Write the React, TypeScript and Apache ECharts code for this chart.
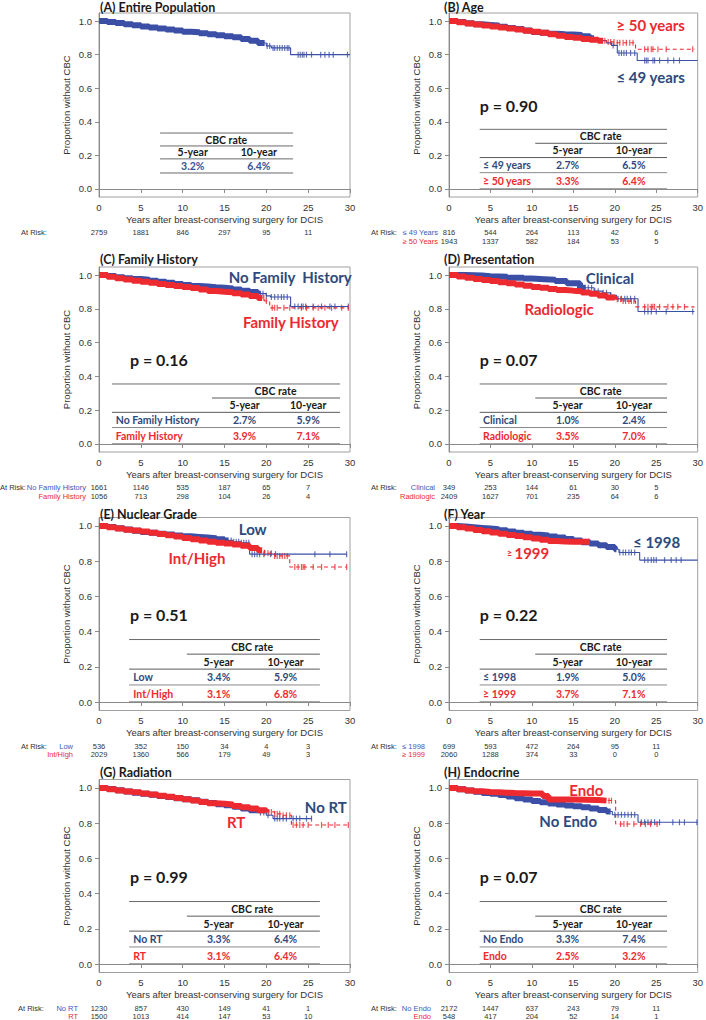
import React, { useEffect, useRef } from "react";
import * as echarts from "echarts";

// ---------------- data ----------------
const yTicks = [0, 0.2, 0.4, 0.6, 0.8, 1.0];
const riskTimes = [0, 5, 10, 15, 20, 25];

// (A) Entire population
const aAllSteps = [[0,1],[1,0.995],[2,0.988],[3,0.981],[4,0.975],[5,0.968],[6,0.962],[7,0.956],[8,0.95],[9,0.944],[10,0.937],[11,0.933],[12,0.928],[13,0.921],[14,0.915],[15,0.909],[16,0.903],[17,0.893],[18,0.882],[19,0.869],[20,0.852],[20.6,0.84],[22.9,0.8],[30,0.8]];
const aAllCensor = [20.1,20.4,20.8,21.0,21.3,21.6,21.9,22.2,22.5,22.7,23.8,24.05,24.3,24.5,24.8,25.4,26.5,27.0,27.5,28.0,29.7];
const aAllRisk = [2759,1881,846,297,95,11];

// (B) Age
const bYoungSteps = [[0,1],[1,0.994],[2,0.987],[3,0.981],[4,0.977],[5,0.973],[6,0.966],[7,0.959],[8,0.952],[9,0.944],[10,0.935],[11,0.93],[12,0.925],[13,0.922],[14,0.92],[15,0.917],[16,0.91],[17,0.897],[18,0.884],[19,0.87],[19.6,0.855],[20.3,0.81],[22.7,0.765],[30,0.765]];
const bYoungCensor = [19.8,20.5,20.8,21.1,21.4,21.9,22.4,23.6,23.8,24.0,24.6,24.8,25.4,26.4,27.1,27.8];
const bYoungRisk = [816,544,264,113,42,6];
const bOldSteps = [[0,1],[1,0.993],[2,0.985],[3,0.979],[4,0.973],[5,0.967],[6,0.961],[7,0.955],[8,0.949],[9,0.942],[10,0.936],[11,0.93],[12,0.922],[13,0.913],[14,0.905],[15,0.9],[16,0.893],[17,0.888],[18,0.882],[19,0.876],[20,0.871],[22.5,0.832],[29.6,0.832]];
const bOldCensor = [18.8,19.2,19.5,19.9,20.3,20.6,21.0,21.4,21.8,22.2,23.6,24.0,24.4,24.6,25.2,26.2,29.4];
const bOldRisk = [1943,1337,582,184,53,5];

// (C) Family history
const cNoFhSteps = [[0,1],[1,0.994],[2,0.988],[3,0.982],[4,0.977],[5,0.973],[6,0.967],[7,0.961],[8,0.954],[9,0.948],[10,0.941],[11,0.936],[12,0.932],[13,0.928],[14,0.925],[15,0.921],[16,0.914],[17,0.907],[18,0.9],[19,0.89],[20,0.877],[20.5,0.87],[22.9,0.814],[29.8,0.814]];
const cNoFhCensor = [19.3,19.6,20.0,20.6,21.0,21.4,21.8,22.1,22.5,23.4,23.8,24.2,24.4,24.7,25.6,26.6,27.6,28.2,29.8];
const cNoFhRisk = [1661,1146,535,187,65,7];
const cFhSteps = [[0,1],[1,0.99],[2,0.981],[3,0.974],[4,0.967],[5,0.961],[6,0.955],[7,0.948],[8,0.941],[9,0.935],[10,0.929],[11,0.923],[12,0.914],[13,0.906],[14,0.902],[15,0.899],[16,0.893],[17,0.885],[18,0.876],[19,0.865],[19.8,0.847],[20.4,0.806],[29.8,0.806]];
const cFhCensor = [19.7,20.0,20.7,21.0,21.3,22.1,22.8,24.2,24.8,25.6,26.2,27.0,27.8,29.0,29.8];
const cFhRisk = [1056,713,298,104,26,4];

// (D) Presentation
const dClinSteps = [[0,1],[2,0.997],[4,0.993],[5,0.99],[7,0.985],[9,0.98],[10,0.976],[11.5,0.972],[12.8,0.965],[14.2,0.951],[15.8,0.925],[17.5,0.905],[18.5,0.895],[19.5,0.88],[20.2,0.86],[22.8,0.784],[29.6,0.784]];
const dClinCensor = [16.8,17.2,17.6,18.0,18.6,19.0,19.5,20.4,20.8,21.2,21.5,21.9,22.4,23.6,24.0,24.4,25.0,26.2,29.4];
const dClinRisk = [349,253,144,61,30,5];
const dRadSteps = [[0,1],[1,0.992],[2,0.984],[3,0.977],[4,0.971],[5,0.965],[6,0.958],[7,0.951],[8,0.944],[9,0.937],[10,0.93],[11,0.925],[12,0.918],[13,0.912],[14,0.908],[15,0.905],[16,0.897],[17,0.889],[18,0.879],[19,0.868],[20,0.857],[21,0.846],[22.5,0.812],[29.6,0.812]];
const dRadCensor = [20.3,20.7,21.0,21.3,21.7,22.0,22.3,23.6,24.0,24.4,24.6,24.8,25.4,26.4,27.0,27.6,28.4];
const dRadRisk = [2409,1627,701,235,64,6];

// (E) Nuclear grade
const eLowSteps = [[0,1],[1,0.994],[2,0.987],[3,0.98],[4,0.973],[5,0.966],[6,0.961],[7,0.956],[8,0.951],[9,0.946],[10,0.941],[11,0.938],[12,0.934],[13,0.93],[14,0.925],[15,0.918],[16,0.91],[17,0.905],[18,0.84],[29.6,0.84]];
const eLowCensor = [15.8,16.1,16.4,16.7,17.0,17.3,17.6,17.9,18.3,18.6,18.9,19.2,19.7,20.5,21.1,25.8,27.6,29.6];
const eLowRisk = [536,352,150,34,4,3];
const eHighSteps = [[0,1],[1,0.992],[2,0.985],[3,0.979],[4,0.974],[5,0.969],[6,0.962],[7,0.955],[8,0.947],[9,0.94],[10,0.932],[11,0.925],[12,0.917],[13,0.91],[14,0.905],[15,0.9],[16,0.895],[17,0.888],[18,0.875],[19,0.862],[19.8,0.845],[21,0.83],[22.8,0.767],[29.6,0.767]];
const eHighCensor = [19.8,20.2,20.6,21.0,21.3,21.6,21.9,22.2,22.5,23.4,23.8,24.2,24.4,24.6,25.6,26.6,28.2,29.6];
const eHighRisk = [2029,1360,566,179,49,3];

// (F) Year
const fEarlySteps = [[0,1],[1,0.997],[2,0.993],[3,0.989],[4,0.985],[5,0.981],[6,0.975],[7,0.968],[8,0.962],[9,0.956],[10,0.95],[11,0.946],[12,0.94],[13,0.934],[14,0.926],[15,0.917],[16,0.908],[17,0.9],[18,0.89],[19,0.88],[20,0.868],[20.5,0.849],[23,0.806],[30,0.806]];
const fEarlyCensor = [20.6,21.0,21.3,21.7,22.0,22.4,23.6,24.0,24.4,24.7,25.0,26.0,26.8,27.4,28.0];
const fEarlyRisk = [699,593,472,264,95,11];
const fLateSteps = [[0,1],[1,0.992],[2,0.985],[3,0.977],[4,0.97],[5,0.963],[6,0.956],[7,0.949],[8,0.943],[9,0.936],[10,0.929],[11,0.922],[12,0.914],[13,0.911],[14,0.91],[15,0.91],[17,0.91]];
const fLateCensor = [16.4,16.8];
const fLateRisk = [2060,1288,374,33,0,0];

// (G) Radiation
const gNoRtSteps = [[0,1],[1,0.994],[2,0.987],[3,0.98],[4,0.973],[5,0.967],[6,0.961],[7,0.955],[8,0.948],[9,0.942],[10,0.936],[11,0.93],[12,0.922],[13,0.915],[14,0.908],[15,0.902],[16,0.893],[17,0.883],[18,0.874],[19,0.86],[20,0.845],[20.8,0.826],[25.4,0.826]];
const gNoRtCensor = [19.3,19.7,20.2,21.0,21.3,21.6,22.0,22.4,23.2,23.6,24.0,24.8,25.4];
const gNoRtRisk = [1230,857,430,149,41,1];
const gRtSteps = [[0,1],[1,0.993],[2,0.986],[3,0.98],[4,0.975],[5,0.969],[6,0.963],[7,0.956],[8,0.95],[9,0.943],[10,0.936],[11,0.929],[12,0.92],[13,0.913],[14,0.91],[15,0.906],[16,0.898],[17,0.89],[18,0.883],[19,0.874],[20,0.864],[21,0.853],[21.8,0.845],[23,0.79],[30,0.79]];
const gRtCensor = [20.3,20.6,21.0,21.3,21.6,22.0,22.4,22.8,23.2,23.6,24.0,24.4,25.0,26.6,27.4,28.2,29.8];
const gRtRisk = [1500,1013,414,147,53,10];

// (H) Endocrine
const hNoEndoSteps = [[0,1],[1,0.993],[2,0.985],[3,0.978],[4,0.972],[5,0.967],[6,0.96],[7,0.951],[8,0.942],[9,0.934],[10,0.926],[11,0.919],[12,0.912],[13,0.906],[14,0.901],[15,0.896],[16,0.89],[17,0.883],[18,0.875],[19,0.866],[19.7,0.848],[22.8,0.805],[30,0.805]];
const hNoEndoCensor = [20.0,20.4,20.8,21.2,21.6,22.0,22.4,23.2,23.6,24.0,24.4,24.8,25.4,27.0,27.8,28.4,29.9];
const hNoEndoRisk = [2172,1447,637,243,79,11];
const hEndoSteps = [[0,1],[1,0.993],[2,0.986],[3,0.981],[4,0.977],[5,0.975],[6,0.973],[7,0.971],[8,0.97],[9,0.969],[10,0.968],[11.3,0.955],[12,0.935],[15,0.932],[18,0.928],[20.1,0.795],[25.2,0.795]];
const hEndoCensor = [19.3,19.6,20.7,21.1,21.5,22.3,23.1,23.7,24.3,25.1];
const hEndoRisk = [548,417,204,52,14,1];

// ---------------- style ----------------
const BLUE = "#3b4fa6";
const RED = "#ec2a30";
const NAVY = "#2e4a7c";
const RISK_BLUE = "#4157c0";
const SANS = "Liberation Sans, Arial, sans-serif";
const CAL = "Lato, 'Open Sans', sans-serif";

const colLeft = [99, 449];
const colWidth = 251;
const rowTop = [13, 267, 517.5, 779.5];
const rowHeight = [184, 185, 193, 193];
const titleY = [7, 259, 514, 772];
const titleX = [100, 444];

const tblRight = { x0: 3.7, x1: 26.3, xp: 10.4, c5: 14.3, c10: 22.3, ch: 18.3, lx: 4.1 };

const panels = [
  { title: "(A) Entire Population", col: 0, row: 0, atX: 21, riskRight: 0, p: null,
    table: { x0: 7.3, x1: 23.2, c5: 11.2, c10: 19.1, ch: 15.2 },
    groups: [{ key: "b", steps: aAllSteps, band: 19.8, censor: aAllCensor, risk: aAllRisk, rates: ["3.2%", "6.4%"], name: "", riskName: "", label: null }] },
  { title: "(B) Age", col: 1, row: 0, atX: 371, riskRight: 438, p: "p = 0.90", table: tblRight,
    groups: [
      { key: "b", steps: bYoungSteps, band: 17.5, censor: bYoungCensor, risk: bYoungRisk, rates: ["2.7%", "6.5%"], name: "≤ 49 years", riskName: "≤ 49 Years", label: { x: 20.2, y: 0.667 } },
      { key: "r", steps: bOldSteps, band: 18.6, censor: bOldCensor, risk: bOldRisk, rates: ["3.3%", "6.4%"], name: "≥ 50 years", riskName: "≥ 50 Years", label: { x: 20.2, y: 0.976 } }] },
  { title: "(C) Family History", col: 0, row: 1, atX: 0, riskRight: 86, p: "p = 0.16",
    table: { x0: 1.55, x1: 28.8, xp: 13.5, c5: 17.4, c10: 25.0, ch: 21.1, lx: 2.0 },
    groups: [
      { key: "b", steps: cNoFhSteps, band: 19.1, censor: cNoFhCensor, risk: cNoFhRisk, rates: ["2.7%", "5.9%"], name: "No Family  History", riskName: "No Family History", label: { x: 15.5, y: 0.99 } },
      { key: "r", steps: cFhSteps, band: 19.5, censor: cFhCensor, risk: cFhRisk, rates: ["3.9%", "7.1%"], name: "Family History", riskName: "Family History", label: { x: 17.2, y: 0.72 } }] },
  { title: "(D) Presentation", col: 1, row: 1, atX: 371, riskRight: 435, p: "p = 0.07", table: tblRight,
    groups: [
      { key: "b", steps: dClinSteps, band: 16.5, censor: dClinCensor, risk: dClinRisk, rates: ["1.0%", "2.4%"], name: "Clinical", riskName: "Clinical", label: { x: 16.5, y: 0.98 } },
      { key: "r", steps: dRadSteps, band: 20.0, censor: dRadCensor, risk: dRadRisk, rates: ["3.5%", "7.0%"], name: "Radiologic", riskName: "Radiologic", label: { x: 9.1, y: 0.8 } }] },
  { title: "(E) Nuclear Grade", col: 0, row: 2, atX: 21, riskRight: 73, p: "p = 0.51",
    table: { x0: 3.6, x1: 26.4, xp: 10.5, c5: 14.3, c10: 22.3, ch: 18.3, lx: 4.1 },
    groups: [
      { key: "b", steps: eLowSteps, band: 15.5, censor: eLowCensor, risk: eLowRisk, rates: ["3.4%", "5.9%"], name: "Low", riskName: "Low", label: { x: 16.7, y: 0.983 } },
      { key: "r", steps: eHighSteps, band: 19.5, censor: eHighCensor, risk: eHighRisk, rates: ["3.1%", "6.8%"], name: "Int/High", riskName: "Int/High", label: { x: 8.3, y: 0.818 } }] },
  { title: "(F) Year", col: 1, row: 2, atX: 371, riskRight: 425, p: "p = 0.22", table: tblRight,
    groups: [
      { key: "b", steps: fEarlySteps, band: 20.2, censor: fEarlyCensor, risk: fEarlyRisk, rates: ["1.9%", "5.0%"], name: "≤ 1998", riskName: "≤ 1998", label: { x: 22.2, y: 0.909 } },
      { key: "r", steps: fLateSteps, band: 17, censor: fLateCensor, risk: fLateRisk, rates: ["3.7%", "7.1%"], name: "≥ 1999", riskName: "≥ 1999", label: { x: 7.0, y: 0.847, smallSym: true } }] },
  { title: "(G) Radiation", col: 0, row: 3, atX: 18, riskRight: 78, p: "p = 0.99",
    table: { x0: 3.6, x1: 26.4, xp: 10.5, c5: 14.3, c10: 22.3, ch: 18.3, lx: 4.1 },
    groups: [
      { key: "b", steps: gNoRtSteps, band: 19.0, censor: gNoRtCensor, risk: gNoRtRisk, rates: ["3.3%", "6.4%"], name: "No RT", riskName: "No RT", label: { x: 24.6, y: 0.892 } },
      { key: "r", steps: gRtSteps, band: 20.0, censor: gRtCensor, risk: gRtRisk, rates: ["3.1%", "6.4%"], name: "RT", riskName: "RT", label: { x: 15.3, y: 0.807 } }] },
  { title: "(H) Endocrine", col: 1, row: 3, atX: 371, riskRight: 431, p: "p = 0.07", table: tblRight,
    groups: [
      { key: "b", steps: hNoEndoSteps, band: 19.5, censor: hNoEndoCensor, risk: hNoEndoRisk, rates: ["3.3%", "7.4%"], name: "No Endo", riskName: "No Endo", label: { x: 10.9, y: 0.8125 } },
      { key: "r", steps: hEndoSteps, band: 19.0, censor: hEndoCensor, risk: hEndoRisk, rates: ["2.5%", "3.2%"], name: "Endo", riskName: "Endo", label: { x: 14.5, y: 0.989 } }] },
];

function stepValue(steps: number[][], t: number) {
  let v = steps[0][1];
  for (const [x, y] of steps) {
    if (x <= t) v = y;
    else break;
  }
  return v;
}

function buildOption() {
  const grid: any[] = [];
  const xAxis: any[] = [];
  const yAxis: any[] = [];
  const series: any[] = [];
  panels.forEach((p, i) => {
    grid.push({
      left: colLeft[p.col], top: rowTop[p.row], width: colWidth, height: rowHeight[p.row],
      show: true, borderColor: "#a0a0a0", borderWidth: 1, backgroundColor: "transparent",
    });
    xAxis.push({
      type: "value", gridIndex: i, min: 0, max: 30, interval: 5,
      name: "Years after breast-conserving surgery for DCIS", nameLocation: "middle", nameGap: 17,
      nameTextStyle: { fontFamily: SANS, fontSize: 9.5, color: "#333" },
      axisLine: { show: true, lineStyle: { color: "#8a8a8a" } },
      axisTick: { show: true, length: 4, lineStyle: { color: "#8a8a8a" } },
      axisLabel: { margin: 5, fontFamily: SANS, fontSize: 9.5, color: "#333" },
      splitLine: { show: false },
    });
    yAxis.push({
      type: "value", gridIndex: i, min: -0.048, max: 1.048,
      name: "Proportion without CBC", nameLocation: "middle", nameGap: 28, nameRotate: 90,
      nameTextStyle: { fontFamily: SANS, fontSize: 9.5, color: "#333" },
      axisLine: { show: true, lineStyle: { color: "#8a8a8a" } },
      axisTick: { show: true, length: 4, customValues: yTicks, lineStyle: { color: "#8a8a8a" } },
      axisLabel: { customValues: yTicks, margin: 7, fontFamily: SANS, fontSize: 9.5, color: "#333",
        formatter: (v: number) => v.toFixed(1) },
      splitLine: { show: false },
    });
    p.groups.forEach((g) => {
      const color = g.key === "b" ? BLUE : RED;
      const dashed = g.key === "r";
      series.push({
        type: "line", xAxisIndex: i, yAxisIndex: i, data: g.steps, step: "end",
        showSymbol: false, silent: true,
        lineStyle: { color, width: 1.1, type: dashed ? [4, 3] : "solid" },
      });
      const band = g.steps.filter((s) => s[0] < g.band);
      band.push([g.band, stepValue(g.steps, g.band)]);
      series.push({
        type: "line", xAxisIndex: i, yAxisIndex: i, data: band, step: "end",
        showSymbol: false, silent: true,
        lineStyle: { color, width: 6, cap: "butt" },
      });
      series.push({
        type: "scatter", xAxisIndex: i, yAxisIndex: i, silent: true,
        data: g.censor.map((t) => [t, stepValue(g.steps, t)]),
        symbol: "rect", symbolSize: [1.2, 6], itemStyle: { color },
      });
    });
  });
  return { animation: false, backgroundColor: "#ffffff", grid, xAxis, yAxis, series };
}

function txt(x: number, y: number, text: string, size: number, fill: string, align = "left", weight = "bold", family = CAL, extra: any = {}) {
  return {
    type: "text", x, y, silent: true,
    style: { text, fill, fontSize: size, fontWeight: weight, fontFamily: family,
      align, verticalAlign: "middle", textAlign: align, textVerticalAlign: "middle", ...extra },
  };
}

function ln(x1: number, y1: number, x2: number, y2: number, stroke: string, lineWidth: number) {
  return { type: "line", silent: true, shape: { x1, y1, x2, y2 }, style: { stroke, lineWidth } };
}

function buildGraphic(chart: any) {
  const els: any[] = [];
  panels.forEach((p, i) => {
    const px = (x: number, y: number) => chart.convertToPixel({ gridIndex: i }, [x, y]);
    // title
    els.push(txt(titleX[p.col], titleY[p.row], p.title, 12.5, "#1a1a1a"));
    const t = p.table as any;
    const rowColor = (g: any) => (g.key === "b" ? NAVY : RED);
    if (p.groups.length === 1) {
      const ys = [0.333, 0.256, 0.179, 0.095];
      ys.forEach((yy) => {
        const a = px(t.x0, yy), b = px(t.x1, yy);
        els.push(ln(a[0], a[1], b[0], b[1], "#6a6a6a", 1));
      });
      const h = px(t.ch, 0.2945);
      els.push(txt(h[0], h[1], "CBC rate", 10.5, "#1a1a1a", "center"));
      const c5 = px(t.c5, 0.2175), c10 = px(t.c10, 0.2175);
      els.push(txt(c5[0], c5[1], "5-year", 10.5, "#1a1a1a", "center"));
      els.push(txt(c10[0], c10[1], "10-year", 10.5, "#1a1a1a", "center"));
      const v5 = px(t.c5, 0.137), v10 = px(t.c10, 0.137);
      els.push(txt(v5[0], v5[1], p.groups[0].rates[0], 10.5, "#35559a", "center"));
      els.push(txt(v10[0], v10[1], p.groups[0].rates[1], 10.5, "#35559a", "center"));
    } else {
      const full = [[0.355, "#6a6a6a", 1], [0.187, "#5a5a5a", 1], [0.097, "#8a8a8a", 1], [0.0, "#a5a5a5", 2]] as any[];
      full.forEach(([yy, c, w]) => {
        const a = px(t.x0, yy), b = px(t.x1, yy);
        els.push(ln(a[0], a[1], b[0], b[1], c, w));
      });
      const pa = px(t.xp, 0.272), pb = px(t.x1, 0.272);
      els.push(ln(pa[0], pa[1], pb[0], pb[1], "#5a5a5a", 1));
      const h = px(t.ch, 0.3135);
      els.push(txt(h[0], h[1], "CBC rate", 10.5, "#1a1a1a", "center"));
      const c5 = px(t.c5, 0.2295), c10 = px(t.c10, 0.2295);
      els.push(txt(c5[0], c5[1], "5-year", 10.5, "#1a1a1a", "center"));
      els.push(txt(c10[0], c10[1], "10-year", 10.5, "#1a1a1a", "center"));
      const rowY = [0.142, 0.0485];
      p.groups.forEach((g, gi) => {
        const col = rowColor(g);
        const l = px(t.lx, rowY[gi]);
        els.push(txt(l[0], l[1], g.name.replace("  ", " "), 10.5, col, "left"));
        const v5 = px(t.c5, rowY[gi]), v10 = px(t.c10, rowY[gi]);
        els.push(txt(v5[0], v5[1], g.rates[0], 10.5, col, "center"));
        els.push(txt(v10[0], v10[1], g.rates[1], 10.5, col, "center"));
        // curve label
        const lb = g.label as any;
        const lp = px(lb.x, lb.y);
        if (lb.smallSym) {
          els.push({
            type: "text", x: lp[0], y: lp[1], silent: true,
            style: {
              text: "{s|≥ }{b|1999}", align: "left", verticalAlign: "middle", textAlign: "left", textVerticalAlign: "middle",
              rich: {
                s: { fontSize: 9, fontFamily: CAL, fontWeight: "bold", fill: col, color: col },
                b: { fontSize: 15, fontFamily: CAL, fontWeight: "bold", fill: col, color: col },
              },
            },
          });
        } else {
          els.push(txt(lp[0], lp[1], g.name, 15, col, "left"));
        }
      });
      // p-value
      const pp = px(3.7, 0.5);
      els.push(txt(pp[0], pp[1], p.p as string, 16, "#1a1a1a", "left"));
    }
    // at risk
    const boxBottom = rowTop[p.row] + rowHeight[p.row];
    const ry = [boxBottom + 35.5, boxBottom + 44];
    els.push(txt(p.atX, ry[0], "At Risk:", 7.5, "#333", "left", "normal", SANS));
    p.groups.forEach((g, gi) => {
      if (g.riskName) {
        els.push(txt(p.riskRight, ry[gi], g.riskName, 7.5, g.key === "b" ? RISK_BLUE : RED, "right", "normal", SANS));
      }
      g.risk.forEach((n, k) => {
        const xx = px(riskTimes[k], 0)[0];
        els.push(txt(xx, ry[gi], String(n), 7.5, "#333", "center", "normal", SANS));
      });
    });
  });
  return els;
}

export default function App() {
  const ref = useRef<HTMLDivElement>(null);
  useEffect(() => {
    document.body.style.margin = "0";
    const chart = echarts.init(ref.current as HTMLDivElement, null, { renderer: "svg" });
    chart.setOption(buildOption() as any);
    chart.setOption({ graphic: { elements: buildGraphic(chart) } } as any);
    return () => chart.dispose();
  }, []);
  return <div ref={ref} style={{ width: 706, height: 1020 }} />;
}
